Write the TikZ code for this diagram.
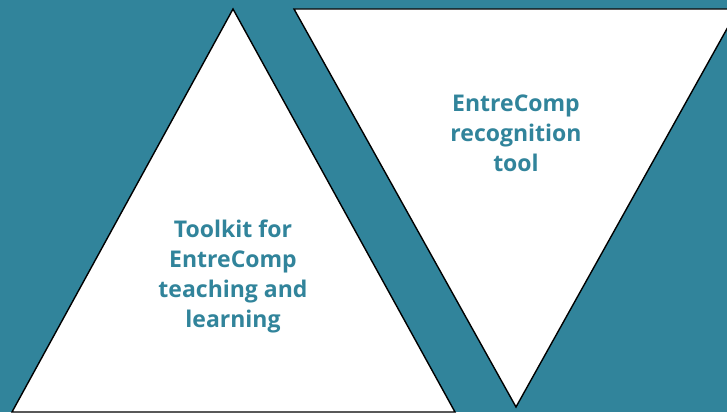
\documentclass[tikz,border=0pt]{standalone}
\usepackage{fontspec}
\setmainfont{Open Sans}
\usepackage{xcolor}
\definecolor{tealbg}{HTML}{31849B}

\tikzset{
  tri/.style={fill=white, draw=black, line width=1.4pt, line join=miter},
  label/.style={text=tealbg, font=\bfseries\fontsize{23}{30}\selectfont, align=center}
}

\begin{document}
\begin{tikzpicture}[x=1pt, y=-1pt]
  % background
  \fill[tealbg] (0,0) rectangle (727,412);
  \useasboundingbox (0,0) rectangle (727,412);
  \clip (0,0) rectangle (727,412);

  % triangles
  \draw[tri] (233,9) -- (455,412) -- (12,412) -- cycle;
  \draw[tri] (294,9) -- (738,9) -- (516,407) -- cycle;

  % labels
  \node[label] (toolkit) at (233,276) {Toolkit for\\EntreComp\\teaching and\\learning};
  \node[label] (recog) at (516,133) {EntreComp\\recognition\\tool};
\end{tikzpicture}
\end{document}
